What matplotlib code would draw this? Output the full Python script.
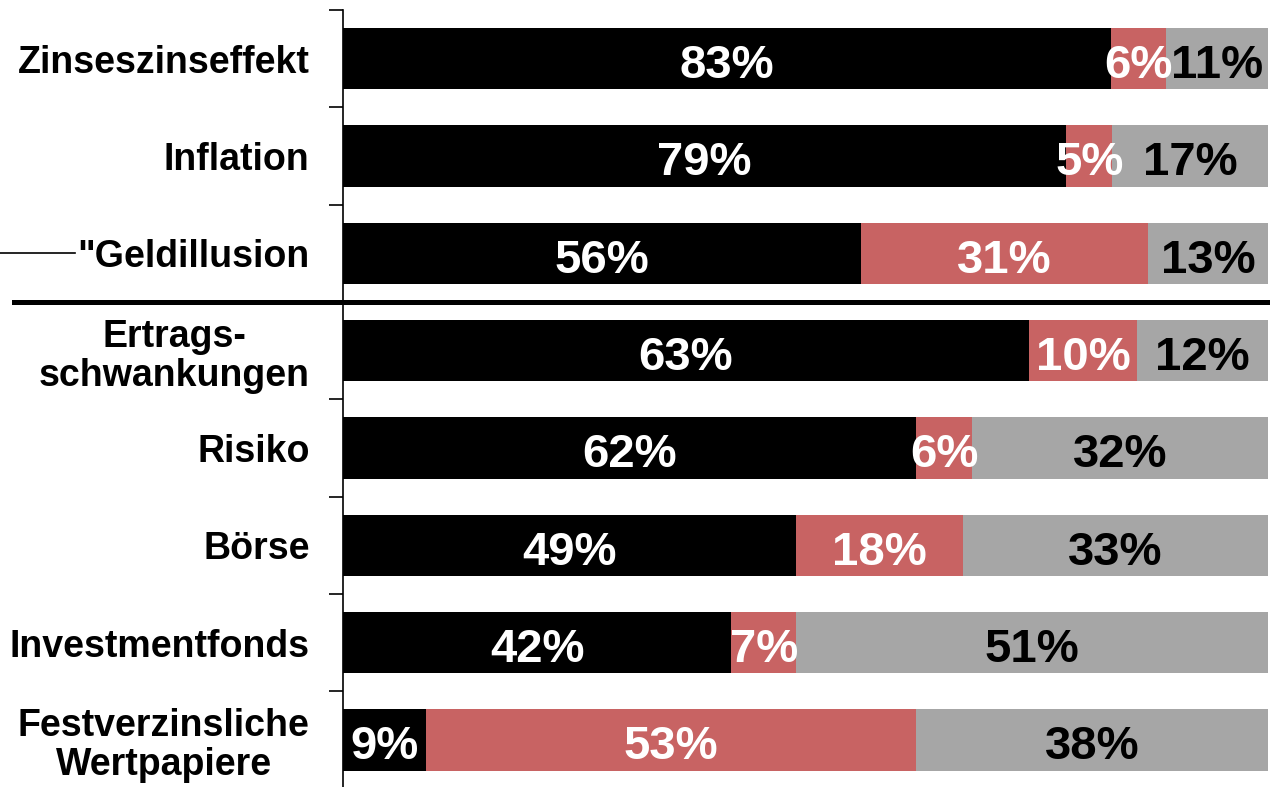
import matplotlib.pyplot as plt
import matplotlib.transforms as mtransforms
import numpy as np

# survey answers per term (shares as printed on the bars)
categories = ['Zinseszinseffekt', 'Inflation', '"Geldillusion', 'Ertrags-\nschwankungen',
              'Risiko', 'Börse', 'Investmentfonds', 'Festverzinsliche\nWertpapiere']
part_black = [83, 79, 56, 63, 62, 49, 42, 9]
part_red = [6, 5, 31, 10, 6, 18, 7, 53]
part_gray = [11, 17, 13, 12, 32, 33, 51, 38]

colors = ['#000000', '#C86363', '#A6A6A6']
text_colors = ['white', 'white', 'black']

plt.rcParams['font.family'] = ['Liberation Sans', 'DejaVu Sans']
plt.rcParams['font.weight'] = 'bold'

fig = plt.figure(figsize=(12.7, 7.87), dpi=100)
ax = fig.add_axes([0.27, -0.002, 0.7284, 0.9893])

raw = np.array([part_black, part_red, part_gray], dtype=float)
shares = raw / raw.sum(axis=0) * 100  # 100% stacked
y = np.arange(len(categories))

left = np.zeros(len(categories))
for i in range(3):
    ax.barh(y, shares[i], left=left, height=0.63, color=colors[i], linewidth=0)
    for k in range(len(categories)):
        ax.text(left[k] + shares[i][k] / 2, y[k] + 0.2, f'{int(raw[i][k])}%',
                ha='center', va='baseline', color=text_colors[i],
                fontsize=34, fontweight='bold')
    left += shares[i]

ax.set_xlim(0, 100)
ax.set_ylim(len(categories) - 0.5, -0.5)
ax.set_yticks(y)
ax.set_yticklabels(categories, fontsize=27, fontweight='bold',
                   linespacing=1.12, multialignment='center')
ax.tick_params(axis='y', which='major', length=0, pad=24)
ax.set_yticks(np.arange(-0.5, len(categories) - 0.5, 1), minor=True)
ax.tick_params(axis='y', which='minor', length=10, width=1.2)
ax.set_xticks([])
for s in ['top', 'right', 'bottom']:
    ax.spines[s].set_visible(False)
ax.spines['left'].set_linewidth(1.2)

# separator between the two groups and marker line at "Geldillusion"
trans = mtransforms.blended_transform_factory(fig.transFigure, ax.transData)
ax.plot([0.011, 1.0], [2.5, 2.5], color='black', linewidth=3.6,
        transform=trans, clip_on=False)
ax.plot([0.0, 0.059], [2.0, 2.0], color='black', linewidth=1.2,
        transform=trans, clip_on=False)

fig.savefig('out.png', dpi=100)
